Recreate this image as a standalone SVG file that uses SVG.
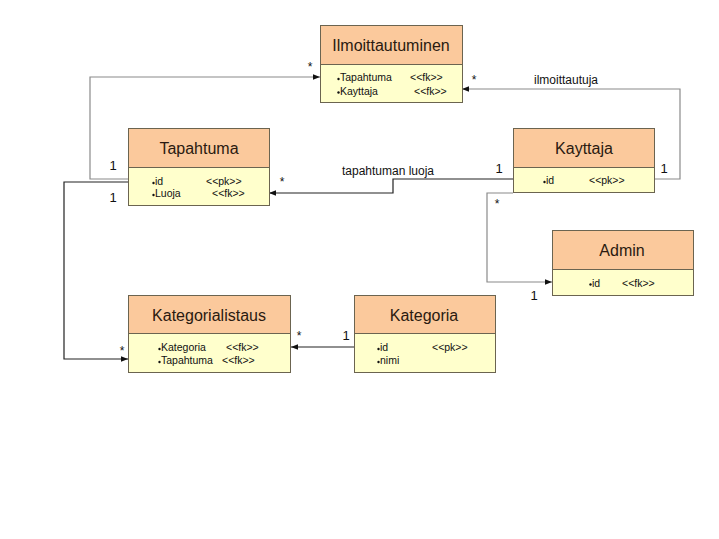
<svg xmlns="http://www.w3.org/2000/svg" width="719" height="539" viewBox="0 0 719 539">
<style>
.hd{fill:#FBC99C;stroke:#6b6450;stroke-width:1}
.bd{fill:#FFFFCC;stroke:#6b6450;stroke-width:1}
.t{font-family:"Liberation Sans",Arial,sans-serif;font-size:16px;font-weight:normal;fill:#2a1a10;text-anchor:middle}
.a{font-family:"Liberation Sans",Arial,sans-serif;font-size:10.5px;font-weight:normal;fill:#111}
.l{font-family:"Liberation Sans",Arial,sans-serif;font-size:12px;font-weight:normal;fill:#111}
.m{font-family:"Liberation Sans",Arial,sans-serif;font-size:13px;font-weight:normal;fill:#111}
.c{fill:none;stroke-width:1.2}
.g{stroke:#8a8a8a}
.k{stroke:#222}
</style>
<defs>
<marker id="ar" viewBox="0 0 10 10" refX="10" refY="5" markerWidth="7" markerHeight="7" markerUnits="userSpaceOnUse" orient="auto">
<path d="M0,1 L10,5 L0,9 z" fill="#111"/>
</marker>
</defs>
<rect width="719" height="539" fill="#ffffff"/>
<g id="connectors">
<polyline class="c g" points="128,179 90,179 90,77 320,77" marker-end="url(#ar)"/>
<polyline class="c k" points="128,182 64,182 64,359 128,359" marker-end="url(#ar)"/>
<polyline class="c k" points="513,179 393,179 393,193 269,193" marker-end="url(#ar)"/>
<polyline class="c g" points="654,179 680,179 680,89 462,89" marker-end="url(#ar)"/>
<polyline class="c g" points="513,193 487,193 487,282 552,282" marker-end="url(#ar)"/>
<polyline class="c k" points="354,347 291,347" marker-end="url(#ar)"/>
<text class="l" x="310" y="71" text-anchor="middle">*</text>
<text class="m" x="113" y="170" text-anchor="middle">1</text>
<text class="m" x="113" y="202" text-anchor="middle">1</text>
<text class="l" x="122" y="355" text-anchor="middle">*</text>
<text class="l" x="388" y="175" text-anchor="middle">tapahtuman luoja</text>
<text class="m" x="499" y="173" text-anchor="middle">1</text>
<text class="l" x="282" y="186" text-anchor="middle">*</text>
<text class="l" x="566" y="84" text-anchor="middle">ilmoittautuja</text>
<text class="l" x="474" y="84" text-anchor="middle">*</text>
<text class="m" x="664" y="173" text-anchor="middle">1</text>
<text class="l" x="497" y="208" text-anchor="middle">*</text>
<text class="m" x="534" y="300" text-anchor="middle">1</text>
<text class="m" x="346" y="340" text-anchor="middle">1</text>
<text class="l" x="299" y="340" text-anchor="middle">*</text>
</g>
<g id="ilmoittautuminen">
<rect class="hd" x="320.5" y="25.5" width="142" height="39"/>
<rect class="bd" x="320.5" y="64.5" width="142" height="38"/>
<text class="t" x="391" y="51">Ilmoittautuminen</text>
<circle cx="338.5" cy="79" r="1.2" fill="#111"/>
<text class="a" x="340" y="81">Tapahtuma</text>
<text class="a" x="410" y="81">&lt;&lt;fk&gt;&gt;</text>
<circle cx="338.5" cy="92.5" r="1.2" fill="#111"/>
<text class="a" x="340" y="95">Kayttaja</text>
<text class="a" x="414" y="95">&lt;&lt;fk&gt;&gt;</text>
</g>
<g id="tapahtuma">
<rect class="hd" x="128.5" y="128.5" width="141" height="39"/>
<rect class="bd" x="128.5" y="167.5" width="141" height="38"/>
<text class="t" x="199" y="154">Tapahtuma</text>
<circle cx="153.5" cy="183" r="1.2" fill="#111"/>
<text class="a" x="155" y="185">id</text>
<text class="a" x="206" y="185">&lt;&lt;pk&gt;&gt;</text>
<circle cx="153.5" cy="195" r="1.2" fill="#111"/>
<text class="a" x="155" y="197">Luoja</text>
<text class="a" x="212" y="197">&lt;&lt;fk&gt;&gt;</text>
</g>
<g id="kayttaja">
<rect class="hd" x="513.5" y="128.5" width="141" height="39"/>
<rect class="bd" x="513.5" y="167.5" width="141" height="25"/>
<text class="t" x="584" y="154">Kayttaja</text>
<circle cx="544.5" cy="182" r="1.2" fill="#111"/>
<text class="a" x="546" y="184">id</text>
<text class="a" x="589" y="184">&lt;&lt;pk&gt;&gt;</text>
</g>
<g id="admin">
<rect class="hd" x="552.5" y="230.5" width="141" height="39"/>
<rect class="bd" x="552.5" y="269.5" width="141" height="26"/>
<text class="t" x="622" y="256">Admin</text>
<circle cx="590.5" cy="284.5" r="1.2" fill="#111"/>
<text class="a" x="592" y="287">id</text>
<text class="a" x="622" y="287">&lt;&lt;fk&gt;&gt;</text>
</g>
<g id="kategorialistaus">
<rect class="hd" x="128.5" y="295.5" width="162" height="38"/>
<rect class="bd" x="128.5" y="333.5" width="162" height="39"/>
<text class="t" x="209" y="321">Kategorialistaus</text>
<circle cx="159.5" cy="349" r="1.2" fill="#111"/>
<text class="a" x="161" y="351">Kategoria</text>
<text class="a" x="226" y="351">&lt;&lt;fk&gt;&gt;</text>
<circle cx="159.5" cy="362" r="1.2" fill="#111"/>
<text class="a" x="161" y="364">Tapahtuma</text>
<text class="a" x="222" y="364">&lt;&lt;fk&gt;&gt;</text>
</g>
<g id="kategoria">
<rect class="hd" x="354.5" y="295.5" width="141" height="38"/>
<rect class="bd" x="354.5" y="333.5" width="141" height="39"/>
<text class="t" x="424" y="321">Kategoria</text>
<circle cx="378.5" cy="349" r="1.2" fill="#111"/>
<text class="a" x="380" y="351">id</text>
<text class="a" x="432" y="351">&lt;&lt;pk&gt;&gt;</text>
<circle cx="378.5" cy="362" r="1.2" fill="#111"/>
<text class="a" x="380" y="364">nimi</text>
</g>
</svg>
